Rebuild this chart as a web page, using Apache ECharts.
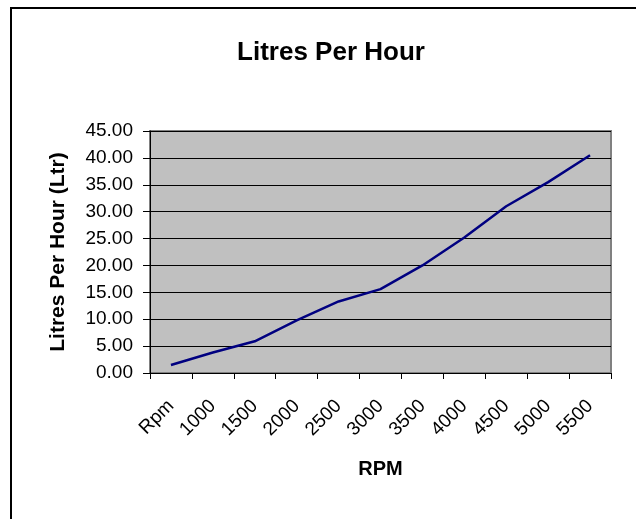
<!DOCTYPE html>
<html>
<head>
<meta charset="utf-8">
<title>Litres Per Hour</title>
<script src="https://cdn.jsdelivr.net/npm/echarts@6/dist/echarts.min.js"></script>
<style>
  html, body { margin: 0; padding: 0; background: #fff; }
  #main { width: 636px; height: 519px; }
</style>
</head>
<body>
<!-- chart container -->
<div id="main"></div>
<script>
  // categories on the x axis
  var rpmLabels = ['Rpm', '1000', '1500', '2000', '2500', '3000', '3500', '4000', '4500', '5000', '5500'];
  // litres per hour
  var litresPerHour = [1.5, 3.8, 5.9, 9.8, 13.3, 15.6, 20.0, 25.2, 31.0, 35.5, 40.5];
  // y axis range
  var yMin = 0, yMax = 45, yStep = 5;

  var font = 'Liberation Sans, Arial, sans-serif';

  var chart = echarts.init(document.getElementById('main'));
  chart.setOption({
    animation: false,
    backgroundColor: '#fff',
    title: {
      text: 'Litres Per Hour',
      left: 326,
      top: 35,
      textAlign: 'center',
      textStyle: { fontFamily: font, fontSize: 26, fontWeight: 'bold', color: '#000' }
    },
    // outer chart frame (only top and left show in the crop)
    graphic: [{
      type: 'rect',
      shape: { x: 11, y: 8, width: 700, height: 700 },
      style: { fill: null, stroke: '#000', lineWidth: 2 },
      silent: true
    }],
    grid: {
      left: 150,
      top: 131,
      width: 461,
      height: 242,
      show: true,
      backgroundColor: '#c0c0c0',
      borderColor: '#808080',
      borderWidth: 2
    },
    xAxis: {
      type: 'category',
      data: rpmLabels,
      boundaryGap: true,
      name: 'RPM',
      nameLocation: 'middle',
      nameGap: 86,
      nameTextStyle: { fontFamily: font, fontSize: 20, fontWeight: 'bold', color: '#000' },
      axisLine: { lineStyle: { color: '#000', width: 1 } },
      axisTick: { show: true, inside: false, length: 6, lineStyle: { color: '#000' } },
      axisLabel: {
        interval: 0,
        rotate: 45,
        margin: 30,
        fontFamily: font,
        fontSize: 19,
        color: '#000'
      },
      splitLine: { show: false }
    },
    yAxis: {
      type: 'value',
      min: yMin,
      max: yMax,
      interval: yStep,
      name: 'Litres Per Hour (Ltr)',
      nameLocation: 'middle',
      nameGap: 81,
      nameRotate: 90,
      nameTextStyle: { fontFamily: font, fontSize: 21, fontWeight: 'bold', color: '#000' },
      axisLine: { show: true, lineStyle: { color: '#000', width: 1 } },
      axisTick: { show: true, inside: false, length: 7, lineStyle: { color: '#000' } },
      axisLabel: {
        margin: 17,
        fontFamily: font,
        fontSize: 19,
        color: '#000',
        formatter: function (v) { return v.toFixed(2); }
      },
      splitLine: { show: true, lineStyle: { color: '#000', width: 1 } }
    },
    series: [{
      type: 'line',
      data: litresPerHour,
      showSymbol: false,
      symbol: 'none',
      lineStyle: { color: '#000080', width: 2.5 },
      itemStyle: { color: '#000080' }
    }]
  });
</script>
</body>
</html>
